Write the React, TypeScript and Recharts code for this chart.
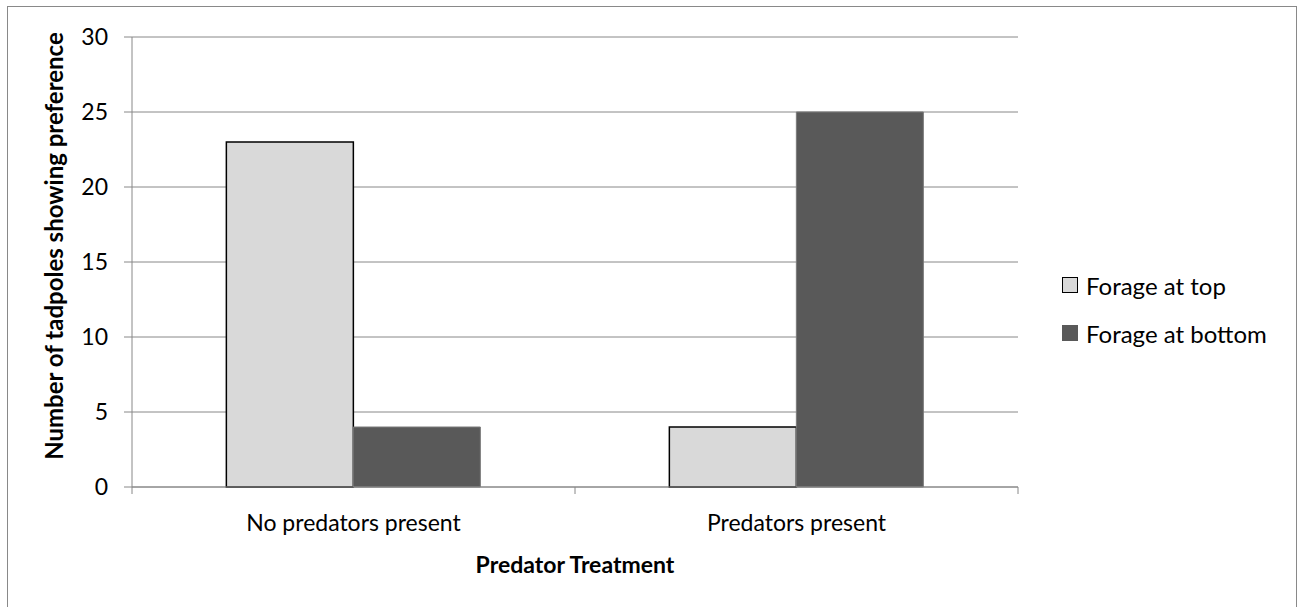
import { BarChart, Bar, XAxis, YAxis, CartesianGrid } from "recharts";

// Categories and series
const categories = ["No predators present", "Predators present"];
const forageTop = [23, 4];
const forageBottom = [4, 25];
const yTicks = [0, 5, 10, 15, 20, 25, 30];

const data = categories.map((name, i) => ({
  name,
  top: forageTop[i],
  bottom: forageBottom[i],
}));

const FONT = "Lato, 'Open Sans', sans-serif";
const W = 1299;
const H = 607;
const PLOT_LEFT = 132;
const PLOT_RIGHT = 1018;
const PLOT_BOTTOM = 487;
const BAND = (PLOT_RIGHT - PLOT_LEFT) / categories.length;

// category label + tick marks at band edges (Excel style)
const CategoryTick = (props: any) => {
  const { x, payload, index } = props;
  return (
    <g>
      <line x1={x - BAND / 2} x2={x - BAND / 2} y1={PLOT_BOTTOM} y2={PLOT_BOTTOM + 7} stroke="#888" />
      {index === categories.length - 1 && (
        <line x1={x + BAND / 2} x2={x + BAND / 2} y1={PLOT_BOTTOM} y2={PLOT_BOTTOM + 7} stroke="#888" />
      )}
      <text x={x} y={PLOT_BOTTOM + 44} textAnchor="middle" fontSize={23} fontFamily={FONT} fill="#000">
        {payload.value}
      </text>
    </g>
  );
};

const legendItems = [
  { label: "Forage at top", fill: "#d9d9d9", stroke: "#000" },
  { label: "Forage at bottom", fill: "#595959", stroke: "#595959" },
];

export default function App() {
  return (
    <div style={{ position: "absolute", left: 0, top: 0, width: W, height: H, overflow: "hidden", background: "#fff" }}>
      <div
        style={{
          position: "absolute",
          left: 7,
          top: 6,
          width: 1290,
          height: 620,
          border: "1px solid #898989",
          boxSizing: "border-box",
        }}
      />
      <div style={{ position: "absolute", left: 0, top: 0 }}>
        <BarChart
          width={W}
          height={H}
          data={data}
          margin={{ top: 37, right: W - PLOT_RIGHT, bottom: 0, left: 0 }}
          barCategoryGap="21.3%"
          barGap={0}
        >
          <CartesianGrid vertical={false} stroke="#888" />
          <XAxis
            dataKey="name"
            height={H - PLOT_BOTTOM}
            stroke="#888"
            tickLine={false}
            tick={<CategoryTick />}
            interval={0}
            label={{
              value: "Predator Treatment",
              position: "center",
              dy: 18,
              style: { fontFamily: FONT, fontSize: 23, fontWeight: 700, fill: "#000" },
            }}
          />
          <YAxis
            width={PLOT_LEFT}
            domain={[0, 30]}
            ticks={yTicks}
            stroke="#888"
            tickSize={8}
            tickMargin={16}
            tick={{ fontFamily: FONT, fontSize: 23, fill: "#000" }}
            label={{
              value: "Number of tadpoles showing preference",
              angle: -90,
              position: "center",
              dx: -12,
              dy: -16,
              style: { fontFamily: FONT, fontSize: 24, fontWeight: 700, fill: "#000", textAnchor: "middle" },
            }}
          />
          <Bar dataKey="top" name="Forage at top" fill="#d9d9d9" stroke="#000" strokeWidth={1.5} isAnimationActive={false} />
          <Bar dataKey="bottom" name="Forage at bottom" fill="#595959" stroke="#7a7a7a" strokeWidth={1} isAnimationActive={false} />
        </BarChart>
      </div>
      <div style={{ position: "absolute", left: 1062, top: 261, fontFamily: FONT, fontSize: 24, color: "#000" }}>
        {legendItems.map((it) => (
          <div key={it.label} style={{ display: "flex", alignItems: "center", height: 48 }}>
            <span
              style={{
                display: "inline-block",
                width: 14,
                height: 14,
                background: it.fill,
                border: `1px solid ${it.stroke}`,
                marginRight: 8,
              }}
            />
            <span>{it.label}</span>
          </div>
        ))}
      </div>
    </div>
  );
}
